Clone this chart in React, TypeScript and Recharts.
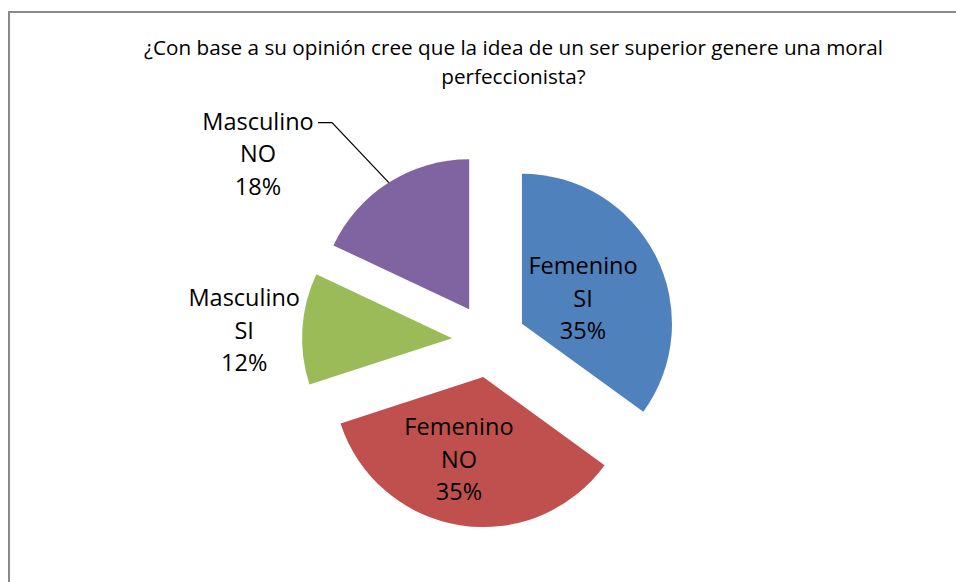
import { PieChart, Pie, Cell } from 'recharts'

// chart data
const titleLines = [
  '¿Con base a su opinión cree que la idea de un ser superior genere una moral',
  'perfeccionista?',
]
const genders = ['Femenino', 'Femenino', 'Masculino', 'Masculino']
const answers = ['SI', 'NO', 'SI', 'NO']
const percents = [35, 35, 12, 18]

// styling / layout
const colors = ['#4F81BD', '#C0504D', '#9BBB59', '#8064A2']
const labelDist = [66, 86, 208, 262]
const labelNudge = [-4.7, -7.4, 1.6, 21.3]
const leader = [false, false, false, true]

const W = 956
const H = 582
const CX = 489
const CY = 340.5
const R = 150
const EXPLODE = 37
const FONT = '"Open Sans", sans-serif'
const RAD = Math.PI / 180

const data = percents.map((v, i) => ({
  name: `${genders[i]} ${answers[i]}`,
  gender: genders[i],
  answer: answers[i],
  value: v,
}))

const total = percents.reduce((a, b) => a + b, 0)

// recharts angle (deg, counter-clockwise from 3 o'clock) of each slice middle
const midAngles = percents.map((v, i) => {
  const before = percents.slice(0, i).reduce((a, b) => a + b, 0)
  return 90 - ((before + v / 2) / total) * 360
})

const dir = (angle: number) => ({ x: Math.cos(angle * RAD), y: -Math.sin(angle * RAD) })

const makeLabel = (k: number) => (props: any) => {
  if (props.index !== k) return null
  const mid = props.midAngle
  const ox = props.cx
  const oy = props.cy
  const d = dir(mid + labelNudge[k])
  const lx = ox + labelDist[k] * d.x
  const ly = oy + labelDist[k] * d.y + 8
  const item = data[k]
  const lines = [item.gender, item.answer, `${item.value}%`]
  let line = null
  if (leader[k]) {
    const m = dir(mid)
    const sx = ox + R * m.x
    const sy = oy + R * m.y
    const ey = ly - 32.5 - 8 + 1
    line = (
      <polyline
        points={`${sx},${sy} ${lx + 74},${ey} ${lx + 60},${ey}`}
        fill="none"
        stroke="#000"
        strokeWidth={1.2}
      />
    )
  }
  return (
    <g key={`lbl-${k}`}>
      {line}
      <text x={lx} y={ly} textAnchor="middle" fontFamily={FONT} fontSize={23.5} fill="#000">
        {lines.map((t, j) => (
          <tspan key={j} x={lx} y={ly + (j - 1) * 32.5}>
            {t}
          </tspan>
        ))}
      </text>
    </g>
  )
}

export default function App() {
  return (
    <div style={{ position: 'absolute', left: 0, top: 0, width: W, height: H, overflow: 'hidden', background: '#fff' }}>
      <div
        style={{
          position: 'absolute',
          left: 8,
          top: 11,
          width: 1100,
          height: 1100,
          border: '2px solid #8a8a8a',
          boxSizing: 'border-box',
        }}
      />
      <svg width={W} height={H} style={{ position: 'absolute', left: 0, top: 0 }}>
        {titleLines.map((t, i) => (
          <text key={i} x={513.5} y={54.5 + i * 29} textAnchor="middle" fontFamily={FONT} fontSize={20.7} fill="#000">
            {t}
          </text>
        ))}
      </svg>
      <div style={{ position: 'absolute', left: 0, top: 0 }}>
        <PieChart width={W} height={H} margin={{ top: 0, right: 0, bottom: 0, left: 0 }}>
          {data.map((_, k) => {
            const m = dir(midAngles[k])
            return (
              <Pie
                key={k}
                data={data}
                dataKey="value"
                nameKey="name"
                cx={CX + EXPLODE * m.x}
                cy={CY + EXPLODE * m.y}
                outerRadius={R}
                startAngle={90}
                endAngle={-270}
                stroke="none"
                label={makeLabel(k)}
                labelLine={false}
                isAnimationActive={false}
              >
                {data.map((_, i) => (
                  <Cell key={i} fill={i === k ? colors[i] : 'none'} />
                ))}
              </Pie>
            )
          })}
        </PieChart>
      </div>
    </div>
  )
}
